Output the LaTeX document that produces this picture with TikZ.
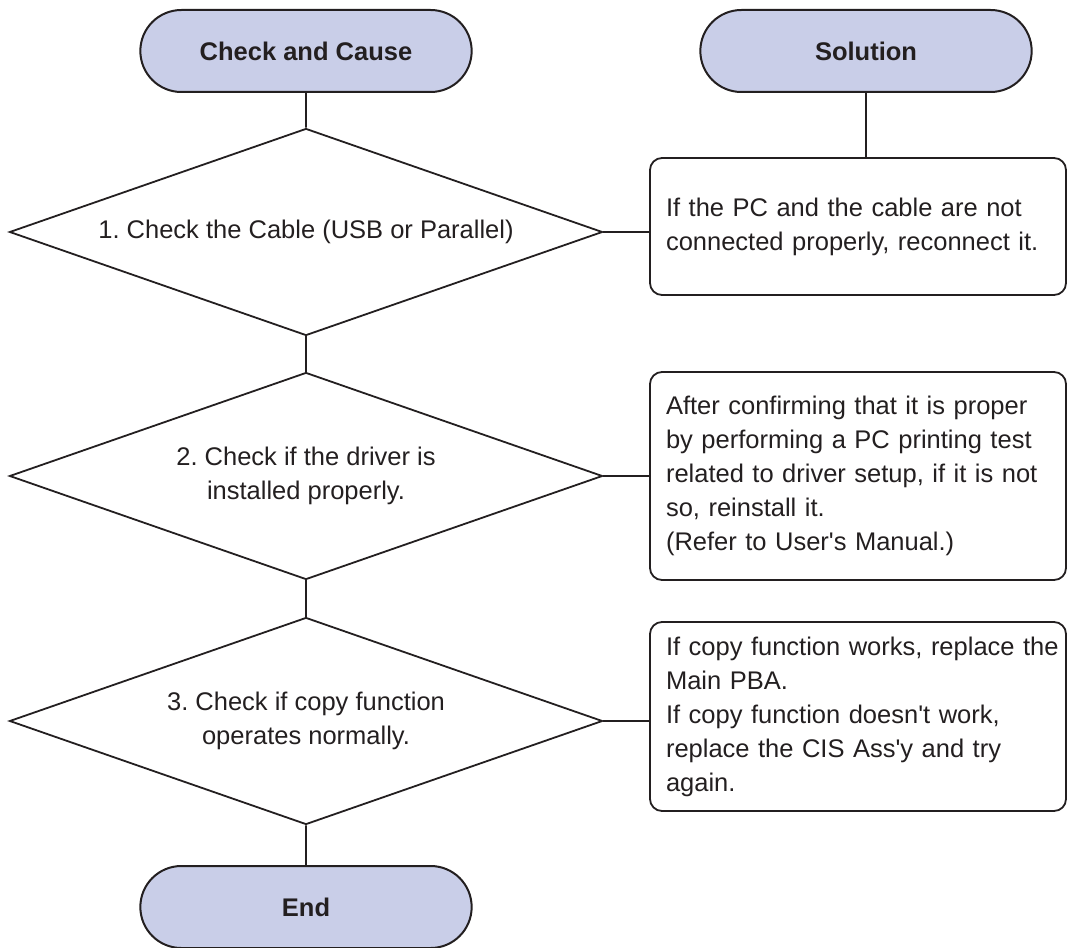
\documentclass[tikz,border=0pt]{standalone}
\usepackage{fontspec}
\setmainfont{Liberation Sans}
\usetikzlibrary{shapes.geometric,shapes.misc,positioning}
\definecolor{termfill}{HTML}{C9CEE8}
\definecolor{inkgray}{HTML}{231F20}
\frenchspacing
\tikzset{termbox/.style={draw=inkgray, fill=termfill, rounded rectangle, line width=2pt,
  minimum width=338pt, minimum height=82pt, font=\bfseries\fontsize{25.5}{30}\selectfont},
  checkbox/.style={draw=inkgray, diamond, line width=1.8pt, inner sep=0pt, aspect=2.86,
  minimum width=593pt, minimum height=207pt, align=center},
  solvebox/.style={draw=inkgray, rounded corners=12pt, line width=1.8pt, inner ysep=0pt,
  inner xsep=16pt, minimum width=416pt, text width=384pt, align=left},
  flowline/.style={draw=inkgray, line width=1.8pt},
  flow/.style={x=1pt, y=-1pt, text=inkgray, font=\fontsize{25.5}{34}\selectfont}}

\begin{document}
\begin{tikzpicture}[flow]
    \useasboundingbox (0,0) rectangle (1067,947);
    \node[termbox] (cause) at (306,51) {Check and Cause};
    \node[termbox] (sol) at (866,51) {Solution};
    \node[checkbox] (d1) at (306,232) {1. Check the Cable (USB or Parallel)};
    \node[checkbox] (d2) at (306,476) {2. Check if the driver is\\installed properly.};
    \node[checkbox] (d3) at (306,721) {3. Check if copy function\\operates normally.};
    \node[termbox] (end) at (306,907) {End};
    \node[solvebox, minimum height=137pt] (s1) at (858,226.5) {If the PC and the cable are not\\connected properly, reconnect it.};
    \node[solvebox, minimum height=208pt] (s2) at (858,476) {After confirming that it is proper\\by performing a PC printing test\\related to driver setup, if it is not\\so, reinstall it.\\(Refer to User\textquotesingle s Manual.)};
    \node[solvebox, minimum height=189pt] (s3) at (858,716.5) {\mbox{If copy function works, replace the}\\Main PBA.\\If copy function doesn\textquotesingle t work,\\replace the CIS Ass\textquotesingle y and try\\again.};
    \draw[flowline] (cause) -- (d1);
    \draw[flowline] (d1) -- (d2);
    \draw[flowline] (d2) -- (d3);
    \draw[flowline] (d3) -- (end);
    \draw[flowline] (sol.south) -- (sol.south |- s1.north);
    \draw[flowline] (d1.east) -- (d1.east -| s1.west);
    \draw[flowline] (d2.east) -- (d2.east -| s2.west);
    \draw[flowline] (d3.east) -- (d3.east -| s3.west);
  \end{tikzpicture}
\end{document}
